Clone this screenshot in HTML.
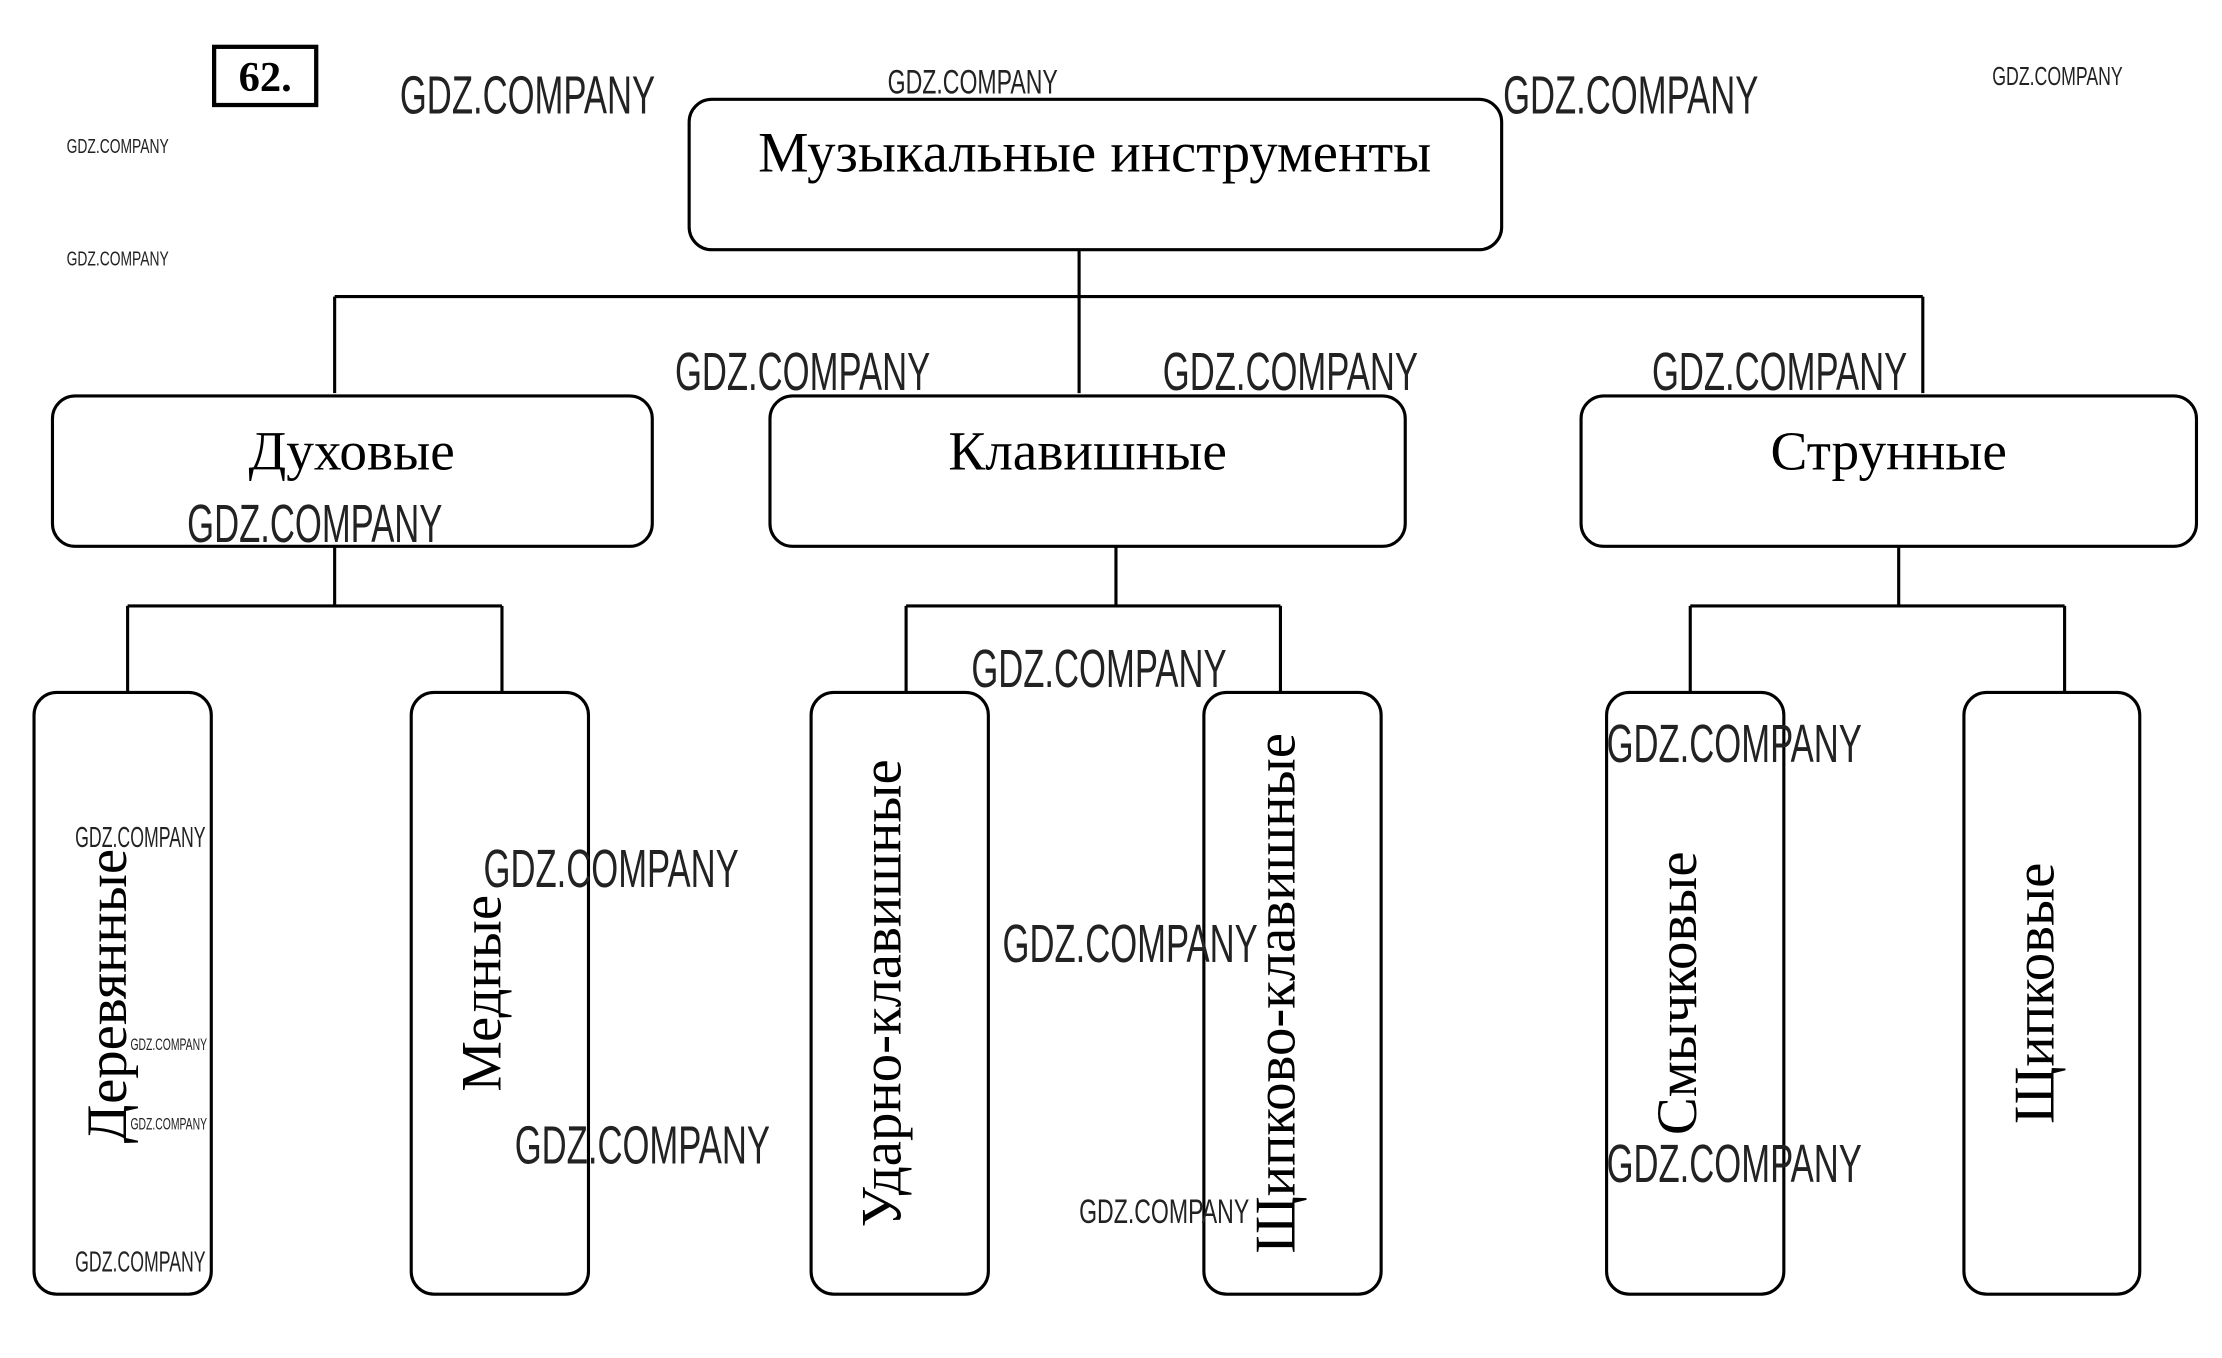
<!DOCTYPE html>
<html><head><meta charset="utf-8"><style>html,body{margin:0;padding:0;background:#fff}svg{display:block}</style></head>
<body>
<svg width="2222" height="1358" viewBox="0 0 1567 957" preserveAspectRatio="none" xmlns="http://www.w3.org/2000/svg">
<g fill="none" stroke="#000" stroke-width="2.2">
<rect x="151" y="33" width="72" height="41" stroke-width="3"/>
<rect x="486" y="70" width="573" height="106" rx="16"/>
<path d="M761 176V277M236 209H1356M236 209V277M1356 209V277"/>
<rect x="37" y="279" width="423" height="106" rx="16"/>
<rect x="543" y="279" width="448" height="106" rx="16"/>
<rect x="1115" y="279" width="434" height="106" rx="16"/>
<path d="M236 385V427M90 427H354M90 427V488M354 427V488"/>
<path d="M787 385V427M639 427H903M639 427V488M903 427V488"/>
<path d="M1339 385V427M1192 427H1456M1192 427V488M1456 427V488"/>
<rect x="24" y="488" width="125" height="424" rx="16"/>
<rect x="290" y="488" width="125" height="424" rx="16"/>
<rect x="572" y="488" width="125" height="424" rx="16"/>
<rect x="849" y="488" width="125" height="424" rx="16"/>
<rect x="1133" y="488" width="125" height="424" rx="16"/>
<rect x="1385" y="488" width="124" height="424" rx="16"/>
</g>
<g font-family="Liberation Serif, serif" fill="#000" text-anchor="middle">
<text x="187" y="64" font-size="30" font-weight="bold">62.</text>
<text x="772" y="121" font-size="40">Музыкальные инструменты</text>
<text x="248" y="331" font-size="39">Духовые</text>
<text x="767" y="331" font-size="39">Клавишные</text>
<text x="1332" y="331" font-size="39">Струнные</text>
<text transform="translate(76,702) rotate(-90)" x="0" y="13" font-size="40">Деревянные</text>
<text transform="translate(340,700) rotate(-90)" x="0" y="13" font-size="40">Медные</text>
<text transform="translate(622,700) rotate(-90)" x="0" y="13" font-size="40">Ударно-клавишные</text>
<text transform="translate(900,700) rotate(-90)" x="0" y="13" font-size="40">Щипково-клавишные</text>
<text transform="translate(1183,700) rotate(-90)" x="0" y="13" font-size="40">Смычковые</text>
<text transform="translate(1435,700) rotate(-90)" x="0" y="13" font-size="40">Щипковые</text>
</g>
<g font-family="Liberation Sans, sans-serif" fill="#222">
<text x="282" y="80" font-size="38" textLength="180" lengthAdjust="spacingAndGlyphs">GDZ.COMPANY</text>
<text x="626" y="66" font-size="24" textLength="120" lengthAdjust="spacingAndGlyphs">GDZ.COMPANY</text>
<text x="1060" y="80" font-size="38" textLength="180" lengthAdjust="spacingAndGlyphs">GDZ.COMPANY</text>
<text x="1405" y="60" font-size="18" textLength="92" lengthAdjust="spacingAndGlyphs">GDZ.COMPANY</text>
<text x="47" y="108" font-size="14" textLength="72" lengthAdjust="spacingAndGlyphs">GDZ.COMPANY</text>
<text x="47" y="187" font-size="14" textLength="72" lengthAdjust="spacingAndGlyphs">GDZ.COMPANY</text>
<text x="476" y="275" font-size="38" textLength="180" lengthAdjust="spacingAndGlyphs">GDZ.COMPANY</text>
<text x="820" y="275" font-size="38" textLength="180" lengthAdjust="spacingAndGlyphs">GDZ.COMPANY</text>
<text x="1165" y="275" font-size="38" textLength="180" lengthAdjust="spacingAndGlyphs">GDZ.COMPANY</text>
<text x="132" y="382" font-size="38" textLength="180" lengthAdjust="spacingAndGlyphs">GDZ.COMPANY</text>
<text x="685" y="484" font-size="38" textLength="180" lengthAdjust="spacingAndGlyphs">GDZ.COMPANY</text>
<text x="1133" y="537" font-size="38" textLength="180" lengthAdjust="spacingAndGlyphs">GDZ.COMPANY</text>
<text x="53" y="597" font-size="20" textLength="92" lengthAdjust="spacingAndGlyphs">GDZ.COMPANY</text>
<text x="341" y="625" font-size="38" textLength="180" lengthAdjust="spacingAndGlyphs">GDZ.COMPANY</text>
<text x="707" y="678" font-size="38" textLength="180" lengthAdjust="spacingAndGlyphs">GDZ.COMPANY</text>
<text x="92" y="740" font-size="12" textLength="54" lengthAdjust="spacingAndGlyphs">GDZ.COMPANY</text>
<text x="92" y="796" font-size="12" textLength="54" lengthAdjust="spacingAndGlyphs">GDZ.COMPANY</text>
<text x="363" y="820" font-size="38" textLength="180" lengthAdjust="spacingAndGlyphs">GDZ.COMPANY</text>
<text x="1133" y="833" font-size="38" textLength="180" lengthAdjust="spacingAndGlyphs">GDZ.COMPANY</text>
<text x="761" y="862" font-size="24" textLength="120" lengthAdjust="spacingAndGlyphs">GDZ.COMPANY</text>
<text x="53" y="896" font-size="20" textLength="92" lengthAdjust="spacingAndGlyphs">GDZ.COMPANY</text>
</g>
</svg>
</body></html>
